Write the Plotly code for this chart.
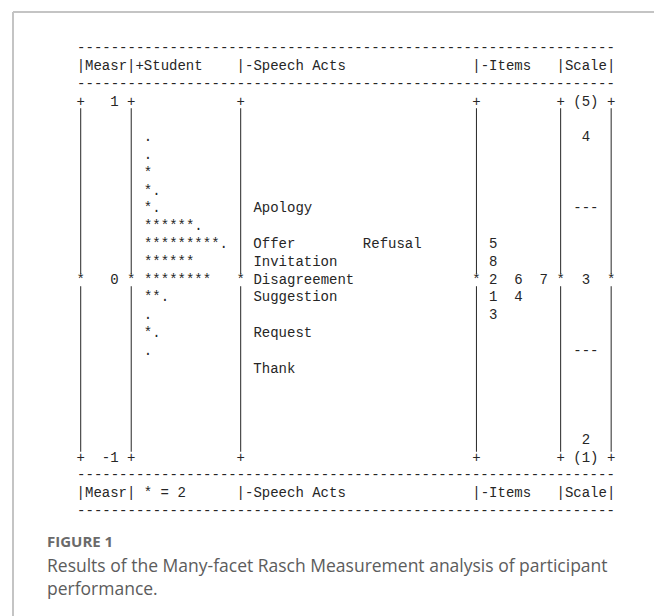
import plotly.graph_objects as go

# ---------------- data ----------------
measure_ticks = [1, 0, -1]
measure_tick_labels = ["1", "0", "-1"]

student_measures = [0.8, 0.7, 0.6, 0.5, 0.4, 0.3, 0.2, 0.1, 0.0, -0.1, -0.2, -0.3, -0.4]
student_counts = [1, 1, 2, 3, 3, 13, 19, 12, 16, 5, 1, 3, 1]
students_per_star = 2

speech_acts = ["Apology", "Offer", "Refusal", "Invitation", "Disagreement",
               "Suggestion", "Request", "Thank"]
speech_act_measures = [0.4, 0.2, 0.2, 0.1, 0.0, -0.1, -0.3, -0.5]

item_labels = ["1", "2", "3", "4", "5", "6", "7", "8"]
item_measures = [-0.1, 0.0, -0.2, -0.1, 0.2, 0.0, 0.0, 0.1]

scale_labels = ["(5)", "4", "---", "3", "---", "2", "(1)"]
scale_measures = [1.0, 0.8, 0.4, 0.0, -0.4, -0.9, -1.0]

header_labels = ["|Measr|+Student", "|-Speech Acts", "|-Items", "|Scale|"]
footer_labels = ["|Measr| * = 2", "|-Speech Acts", "|-Items", "|Scale|"]

caption_title = "FIGURE 1"
caption_text = ("Results of the Many-facet Rasch Measurement analysis of participant<br>"
                "performance.")

# ---------------- layout constants (character grid) ----------------
W, H = 662, 616
CW = 8.42          # px per character column
X0 = 68.5          # left edge of column 0
ROW = 17.8         # px per row (0.1 logit)
Y1 = 94.0          # pixel y of measure = 1
bar_cols = [0, 6, 19, 47, 57, 63]
header_cols = [0, 19, 47, 57]
student_col = 8
speech_col, speech_step = 21, 13
item_col, item_step = 49, 3
scale_center = 60
measure_right = 4
n_cols = 64
FONT = "Liberation Mono"
FS = 14
INK = "#262626"

def xr(c0, s):
    """centre x (in column units) of string s starting at column c0"""
    return c0 + (len(s) - 1) / 2.0

ppu_y = ROW / 0.1
x_range = [-X0 / CW - 0.5, (W - X0) / CW - 0.5]
y_range = [1 - (H - Y1) / ppu_y, 1 + Y1 / ppu_y]

fig = go.Figure()

def add_text(xs, ys, texts, size=FS, color=INK, family=FONT):
    fig.add_trace(go.Scatter(x=xs, y=ys, text=texts, mode="text",
                             textposition="middle center",
                             textfont=dict(family=family, size=size, color=color),
                             hoverinfo="skip", showlegend=False))

# measure column labels
add_text([measure_right - (len(s) - 1) / 2.0 for s in measure_tick_labels],
         measure_ticks, measure_tick_labels)

# row markers (+ at integers +-1, * at 0)
mx, my, mt = [], [], []
for m in measure_ticks:
    for c in bar_cols:
        mx.append(c); my.append(m); mt.append("*" if m == 0 else "+")
add_text(mx, my, mt)

# students
marks = ["*" * (n // students_per_star) + "." * (n % students_per_star) for n in student_counts]
add_text([xr(student_col, s) for s in marks], student_measures, marks)

# speech acts (several per row placed in successive slots)
slot = {}
sx = []
for name, m in zip(speech_acts, speech_act_measures):
    k = slot.get(m, 0); slot[m] = k + 1
    sx.append(xr(speech_col + speech_step * k, name))
add_text(sx, speech_act_measures, speech_acts)

# items
order = sorted(range(len(item_labels)), key=lambda i: int(item_labels[i]))
slot = {}
ix = [0] * len(item_labels)
for i in order:
    m = item_measures[i]
    k = slot.get(m, 0); slot[m] = k + 1
    ix[i] = xr(item_col + item_step * k, item_labels[i])
add_text(ix, item_measures, item_labels)

# scale
add_text([scale_center] * len(scale_labels), scale_measures, scale_labels)

# header / footer rows and dashed rules
dash = "-" * n_cols
rule_x = (n_cols - 1) / 2.0
add_text([rule_x] * 4, [1.3, 1.1, -1.1, -1.3], [dash] * 4)
add_text([xr(c, s) for c, s in zip(header_cols, header_labels)], [1.2] * 4, header_labels)
add_text([xr(c, s) for c, s in zip(header_cols, footer_labels)], [-1.2] * 4, footer_labels)

# vertical bars between the + / * markers
gap = 0.035
for c in bar_cols:
    for top, bot in [(1, 0), (0, -1)]:
        fig.add_shape(type="line", x0=c, x1=c, y0=top - gap, y1=bot + gap,
                      xref="x", yref="y", line=dict(color=INK, width=1))

# frame lines (light grey, top and left)
fig.add_shape(type="line", xref="paper", yref="paper", x0=5 / W, x1=1,
              y0=1 - 4 / H, y1=1 - 4 / H, line=dict(color="#c4c4c4", width=2))
fig.add_shape(type="line", xref="paper", yref="paper", x0=5 / W, x1=5 / W,
              y0=0, y1=1 - 4 / H, line=dict(color="#c4c4c4", width=2))

# caption
fig.add_annotation(xref="paper", yref="paper", x=37 / W, y=1 - 533 / H,
                   xanchor="left", yanchor="middle", showarrow=False,
                   text="<b>" + caption_title + "</b>",
                   font=dict(family="Open Sans", size=15, color="#6a6a6a"))
fig.add_annotation(xref="paper", yref="paper", x=37 / W, y=1 - 568 / H,
                   xanchor="left", yanchor="middle", showarrow=False, align="left",
                   text=caption_text,
                   font=dict(family="Open Sans", size=17.5, color="#5c5c5c"))

fig.update_xaxes(range=x_range, visible=False, fixedrange=True)
fig.update_yaxes(range=y_range, visible=False, fixedrange=True)
fig.update_layout(width=W, height=H, margin=dict(l=0, r=0, t=0, b=0),
                  paper_bgcolor="white", plot_bgcolor="white")

fig.write_html("out.html")
